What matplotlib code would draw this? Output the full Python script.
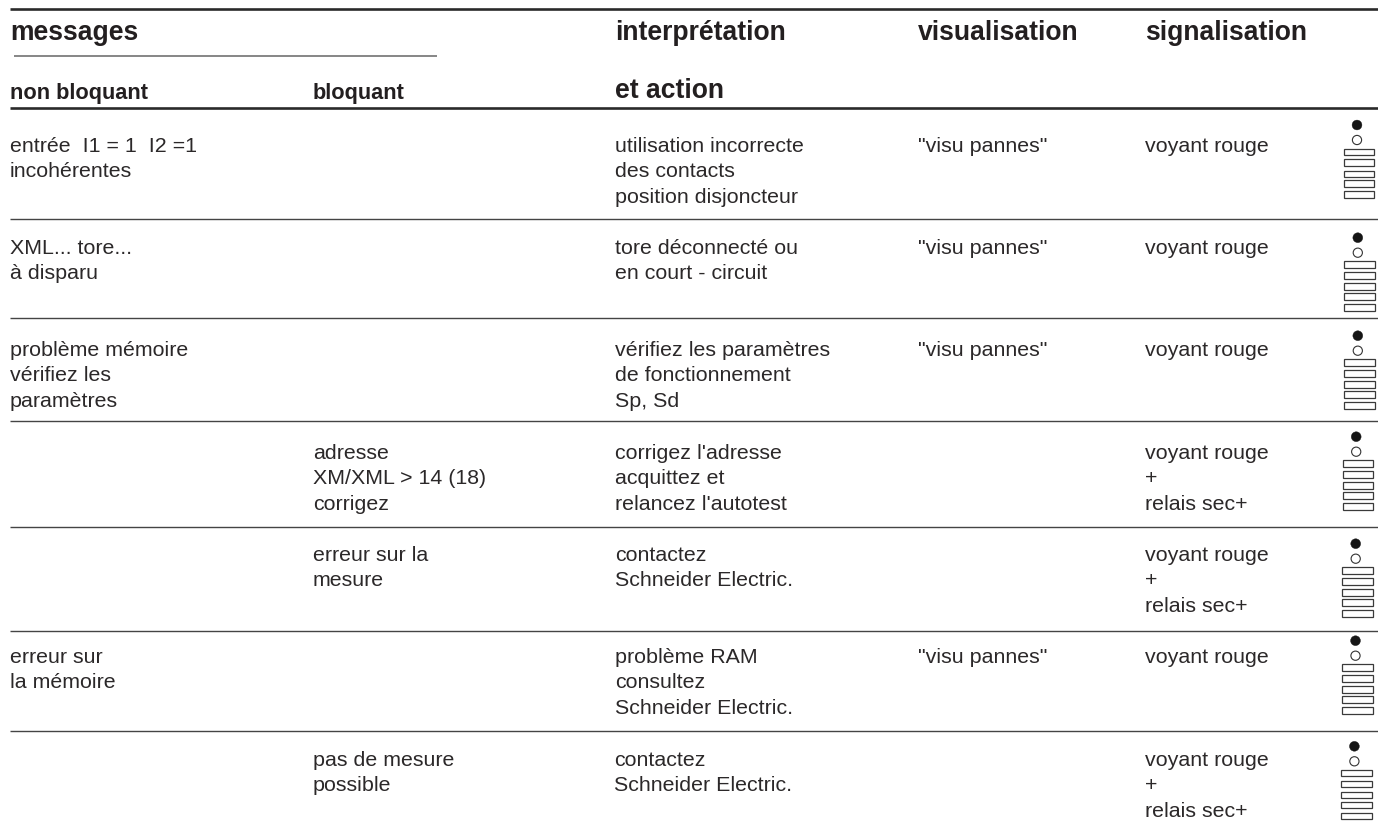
import matplotlib
matplotlib.use("Agg")
import matplotlib.pyplot as plt
from matplotlib.patches import Rectangle, Circle

plt.rcParams['font.family'] = ['Liberation Sans', 'DejaVu Sans']

headers = [
    (10, 39.5, "messages", 19.1),
    (615, 39.5, "interprétation", 19.1),
    (918, 39.5, "visualisation", 19.1),
    (1145, 39.5, "signalisation", 19.1),
    (10, 98.5, "non bloquant", 15.7),
    (313, 98.5, "bloquant", 15.7),
    (615, 98.5, "et action", 19.1),
]
col_a, col_b, col_c, col_d, col_e = 10, 313, 614.7, 918, 1145
row_first_lines = [152, 254, 356, 459, 561, 663, 766]
cells = [
    (col_a, 0, ["entrée  I1 = 1  I2 =1", "incohérentes"]),
    (col_c, 0, ["utilisation incorrecte", "des contacts", "position disjoncteur"]),
    (col_d, 0, ['"visu pannes"']),
    (col_e, 0, ["voyant rouge"]),
    (col_a, 1, ["XML... tore...", "à disparu"]),
    (col_c, 1, ["tore déconnecté ou", "en court - circuit"]),
    (col_d, 1, ['"visu pannes"']),
    (col_e, 1, ["voyant rouge"]),
    (col_a, 2, ["problème mémoire", "vérifiez les", "paramètres"]),
    (col_c, 2, ["vérifiez les paramètres", "de fonctionnement", "Sp, Sd"]),
    (col_d, 2, ['"visu pannes"']),
    (col_e, 2, ["voyant rouge"]),
    (col_b, 3, ["adresse", "XM/XML > 14 (18)", "corrigez"]),
    (col_c, 3, ["corrigez l'adresse", "acquittez et", "relancez l'autotest"]),
    (col_e, 3, ["voyant rouge", "+", "relais sec+"]),
    (col_b, 4, ["erreur sur la", "mesure"]),
    (col_c, 4, ["contactez", "Schneider Electric."]),
    (col_e, 4, ["voyant rouge", "+", "relais sec+"]),
    (col_a, 5, ["erreur sur", "la mémoire"]),
    (col_c, 5, ["problème RAM", "consultez", "Schneider Electric."]),
    (col_d, 5, ['"visu pannes"']),
    (col_e, 5, ["voyant rouge"]),
    (col_b, 6, ["pas de mesure", "possible"]),
    (col_c - 1, 6, ["contactez", "Schneider Electric."]),
    (col_e, 6, ["voyant rouge", "+", "relais sec+"]),
]
thick_rules = [9.7, 109]
thin_rules = [220, 319, 422, 528, 631.5, 732]
sub_rule = (14, 437, 56.7)
icon_x = [1358.8, 1359.6, 1359.6, 1358, 1357.5, 1357.3, 1356.2]
icon_y = [126, 238.7, 336.7, 437.7, 544.7, 641.7, 747.3]
bar_offsets = [23.7, 34.3, 45.7, 55.3, 66.3]
line_step = 25.3

fig = plt.figure(figsize=(13.78, 8.28), dpi=100)
ax = fig.add_axes([0, 0, 1, 1])
ax.set_xlim(0, 1378)
ax.set_ylim(828, 0)
ax.axis('off')

ax.hlines(thick_rules, 10, 1378, color='#2a2a2a', lw=1.9)
ax.hlines(thin_rules, 10, 1378, color='#444444', lw=1.0)
ax.hlines(sub_rule[2], sub_rule[0], sub_rule[1], color='#666666', lw=1.1)

for x, y, s, size in headers:
    ax.text(x, y, s, fontsize=size, fontweight='bold', color='#231f20', va='baseline')
for x, row, lines in cells:
    y = row_first_lines[row]
    for i, s in enumerate(lines):
        ax.text(x, y + i * line_step, s, fontsize=15.4, color='#2b2829', va='baseline')

for cx, top in zip(icon_x, icon_y):
    ax.add_patch(Circle((cx - 1.8, top), 4.9, fc='#151515', ec='#151515', lw=0.3))
    ax.add_patch(Circle((cx - 1.8, top + 15), 4.6, fc='white', ec='#333333', lw=0.8))
    for off in bar_offsets:
        ax.add_patch(Rectangle((cx - 15.3, top + off), 30.6, 6.5, fc='white', ec='#3a3a3a', lw=0.9))

fig.savefig('out.png', dpi=100, facecolor='white')
